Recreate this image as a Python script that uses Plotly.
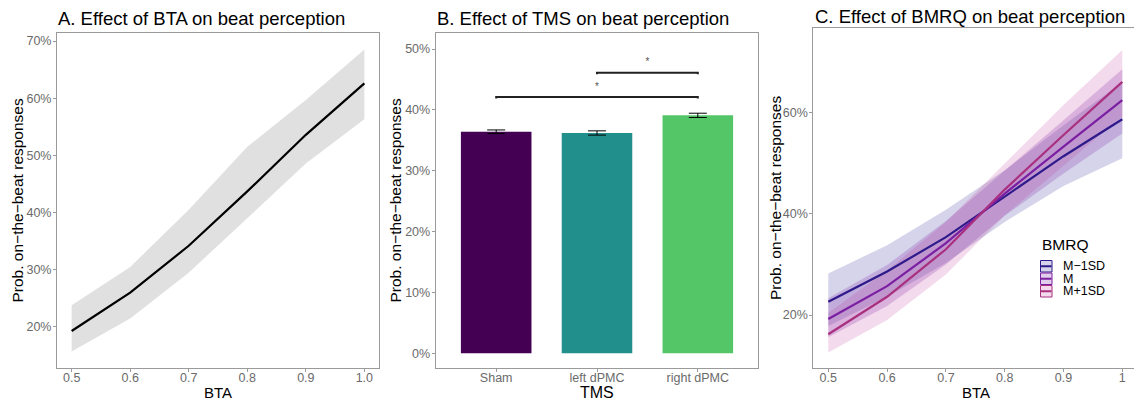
import plotly.graph_objects as go

W, H = 1134, 403

# ---------------- data ----------------
# Panel A: effect of BTA
bta_a = [0.5, 0.6, 0.7, 0.8, 0.9, 1.0]
fit_a = [19.3, 26.0, 34.2, 43.7, 53.6, 62.6]
lo_a = [15.7, 21.5, 29.5, 39.0, 48.6, 56.3]
hi_a = [23.8, 30.5, 40.5, 51.5, 59.7, 68.5]

# Panel B: effect of TMS
tms_labels = ["Sham", "left dPMC", "right dPMC"]
tms_pos = [0, 1, 2]
tms_vals = [36.4, 36.2, 39.1]
tms_err = [0.3, 0.35, 0.35]
tms_colors = ["#440154", "#21908C", "#55C667"]
sig_from = [0, 1]
sig_to = [2, 2]
sig_y = [42.1, 46.1]
sig_star_y = [43.7, 47.8]
sig_text = ["*", "*"]

# Panel C: effect of BMRQ
bta_c = [0.5, 0.6, 0.7, 0.8, 0.9, 1.0]
bmrq_levels = ["M\u22121SD", "M", "M+1SD"]
fit_c = [
    [22.6, 28.6, 35.4, 43.4, 51.4, 58.7],
    [19.2, 25.7, 34.2, 44.0, 53.3, 62.5],
    [16.2, 23.6, 33.0, 44.8, 55.6, 66.1],
]
lo_c = [
    [17.8, 23.6, 30.3, 38.4, 45.5, 51.0],
    [15.6, 21.8, 30.0, 39.6, 48.0, 55.9],
    [12.6, 19.0, 28.0, 39.7, 49.5, 59.3],
]
hi_c = [
    [28.2, 33.8, 40.8, 48.6, 57.5, 66.0],
    [23.3, 29.9, 38.6, 48.5, 58.5, 68.6],
    [20.4, 28.8, 38.4, 50.0, 61.5, 72.4],
]
line_colors_c = ["#2E1A8A", "#7A1FA2", "#A8307F"]
fill_colors_c = ["rgba(50,40,150,0.20)", "rgba(120,30,170,0.22)", "rgba(190,50,150,0.18)"]

ticks_a = [0.5, 0.6, 0.7, 0.8, 0.9, 1.0]
ticks_a_text = ["0.5", "0.6", "0.7", "0.8", "0.9", "1.0"]
ticks_c_text = ["0.5", "0.6", "0.7", "0.8", "0.9", "1"]
yticks_a = [20, 30, 40, 50, 60, 70]
yticks_a_text = ["20%", "30%", "40%", "50%", "60%", "70%"]
yticks_b = [0, 10, 20, 30, 40, 50]
yticks_b_text = ["0%", "10%", "20%", "30%", "40%", "50%"]
yticks_c = [20, 40, 60]
yticks_c_text = ["20%", "40%", "60%"]

FONT = "Liberation Sans, Arial, sans-serif"
TICKCOL = "#6a6a6a"
LINECOL = "#9a9a9a"


def px(x):
    return x / W


def py(y):
    return 1 - y / H


fig = go.Figure()

# ---------- Panel A ----------
fig.add_trace(go.Scatter(
    x=bta_a + bta_a[::-1], y=hi_a + lo_a[::-1], fill="toself",
    fillcolor="rgba(0,0,0,0.12)", line=dict(width=0), mode="lines",
    hoverinfo="skip", showlegend=False, xaxis="x", yaxis="y"))
fig.add_trace(go.Scatter(
    x=bta_a, y=fit_a, mode="lines", line=dict(color="black", width=2.2),
    showlegend=False, xaxis="x", yaxis="y"))

# ---------- Panel B ----------
fig.add_trace(go.Bar(
    x=tms_pos, y=tms_vals, width=0.7, marker=dict(color=tms_colors, line=dict(width=0)),
    error_y=dict(type="data", array=tms_err, color="black", thickness=1, width=9),
    showlegend=False, xaxis="x2", yaxis="y2"))
for f, t, yv, sy, st in zip(sig_from, sig_to, sig_y, sig_star_y, sig_text):
    fig.add_trace(go.Scatter(
        x=[f, f, t, t], y=[yv - 0.25, yv, yv, yv - 0.25], mode="lines",
        line=dict(color="#222222", width=2), showlegend=False, hoverinfo="skip",
        xaxis="x2", yaxis="y2"))
    fig.add_trace(go.Scatter(
        x=[(f + t) / 2], y=[sy], mode="text", text=[st],
        textfont=dict(family=FONT, size=10, color="#555555"),
        showlegend=False, hoverinfo="skip", xaxis="x2", yaxis="y2"))

# ---------- Panel C ----------
for lo, hi, fc in zip(lo_c, hi_c, fill_colors_c):
    fig.add_trace(go.Scatter(
        x=bta_c + bta_c[::-1], y=hi + lo[::-1], fill="toself", fillcolor=fc,
        line=dict(width=0), mode="lines", hoverinfo="skip", showlegend=False,
        xaxis="x3", yaxis="y3"))
for fit, lc, name in zip(fit_c, line_colors_c, bmrq_levels):
    fig.add_trace(go.Scatter(
        x=bta_c, y=fit, mode="lines", line=dict(color=lc, width=2.2), name=name,
        showlegend=False, xaxis="x3", yaxis="y3"))

axis_common = dict(
    showgrid=False, zeroline=False, showline=True, linecolor=LINECOL, linewidth=1,
    ticks="outside", ticklen=3, tickcolor=LINECOL, tickwidth=1,
    tickfont=dict(family=FONT, size=12.5, color=TICKCOL),
)
xaxis_common = dict(axis_common, ticklabelstandoff=-5)
yaxis_common = dict(axis_common, ticklabelstandoff=-1)

fig.update_layout(
    width=W, height=H, margin=dict(l=0, r=0, t=0, b=0),
    paper_bgcolor="white", plot_bgcolor="white", showlegend=False,
    xaxis=dict(domain=[px(57), px(379)], range=[0.475, 1.025], tickvals=ticks_a,
               ticktext=ticks_a_text, anchor="y", mirror=True, **xaxis_common),
    yaxis=dict(domain=[py(368), py(33)], range=[12.83, 71.4], tickvals=yticks_a,
               ticktext=yticks_a_text, anchor="x", mirror=True, **yaxis_common),
    xaxis2=dict(domain=[px(435.7), px(758.3)], range=[-0.6, 2.6], tickvals=tms_pos,
                ticktext=tms_labels, anchor="y2", mirror=True, **xaxis_common),
    yaxis2=dict(domain=[py(368), py(33)], range=[-2.42, 52.63], tickvals=yticks_b,
                ticktext=yticks_b_text, anchor="x2", mirror=True, **yaxis_common),
    xaxis3=dict(domain=[px(813.3), 1.0], range=[0.4745, 1.0199], tickvals=ticks_a,
                ticktext=ticks_c_text, anchor="y3", mirror=True, **xaxis_common),
    yaxis3=dict(domain=[py(368.3), py(28.3)], range=[9.46, 76.69], tickvals=yticks_c,
                ticktext=yticks_c_text, anchor="x3", mirror=False, **yaxis_common),
)

annotations = []
# panel titles
for txt, x, y in [("A. Effect of BTA on beat perception", 56, 18.5),
                  ("B. Effect of TMS on beat perception", 434.7, 18.5),
                  ("C. Effect of BMRQ on beat perception", 813, 16.5)]:
    annotations.append(dict(text=txt, x=px(x), y=py(y), xref="paper", yref="paper",
                            xanchor="left", yanchor="middle", showarrow=False,
                            font=dict(family=FONT, size=18.5, color="black")))
# y titles
for x, y in [(17, 200.5), (395, 200.5), (775, 198)]:
    annotations.append(dict(text="Prob. on\u2212the\u2212beat responses", x=px(x), y=py(y),
                            xref="paper", yref="paper", xanchor="center", yanchor="middle",
                            textangle=-90, showarrow=False,
                            font=dict(family=FONT, size=15.5, color="black")))
# x titles
for txt, x, y, s in [("BTA", 218, 392, 15), ("TMS", 597, 392, 16), ("BTA", 976, 392, 15)]:
    annotations.append(dict(text=txt, x=px(x), y=py(y), xref="paper", yref="paper",
                            xanchor="center", yanchor="middle", showarrow=False,
                            font=dict(family=FONT, size=s, color="black")))

# legend for panel C (manual)
annotations.append(dict(text="BMRQ", x=px(1040), y=py(244.5), xref="paper", yref="paper",
                        xanchor="left", yanchor="middle", showarrow=False,
                        font=dict(family=FONT, size=15.5, color="black")))
shapes = []
row_top = [260, 272.5, 285]
row_h = 12.5
for i, (name, lc, fc) in enumerate(zip(bmrq_levels, line_colors_c, fill_colors_c)):
    t = row_top[i]
    shapes.append(dict(type="rect", xref="paper", yref="paper",
                       x0=px(1040.5), x1=px(1052), y0=py(t + row_h - 0.5), y1=py(t + 0.5),
                       fillcolor=fc, line=dict(color=lc, width=1)))
    shapes.append(dict(type="line", xref="paper", yref="paper",
                       x0=px(1041), x1=px(1051.5), y0=py(t + row_h / 2), y1=py(t + row_h / 2),
                       line=dict(color=lc, width=2)))
    annotations.append(dict(text=name, x=px(1061), y=py(t + row_h / 2), xref="paper",
                            yref="paper", xanchor="left", yanchor="middle", showarrow=False,
                            font=dict(family=FONT, size=12.5, color="black")))

fig.update_layout(annotations=annotations, shapes=shapes)
fig.write_html("out.html", config={"displayModeBar": False},
               post_script="document.body.style.margin='0';document.body.style.overflow='hidden';")
